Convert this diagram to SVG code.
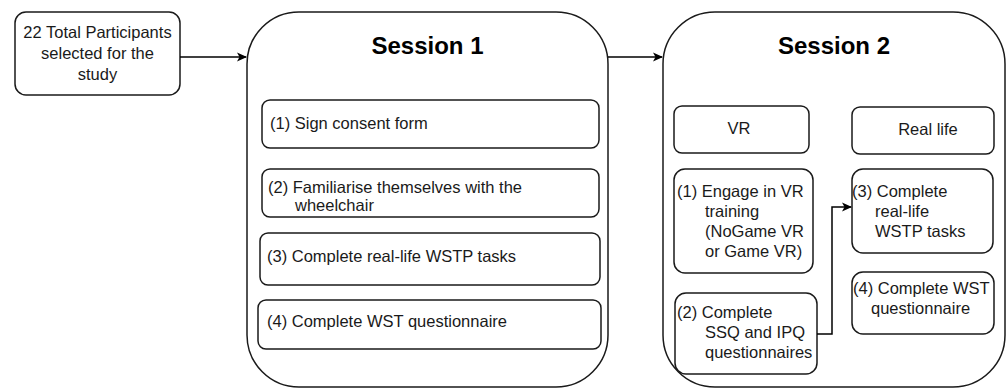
<svg xmlns="http://www.w3.org/2000/svg" width="1007" height="390" viewBox="0 0 1007 390">
<style>
.box{fill:#fff;stroke:#1a1a1a;stroke-width:1.5}
.t{font-family:"Liberation Sans",Arial,sans-serif;font-size:16.5px;fill:#1a1a1a}
.c{text-anchor:middle}
.h{font-family:"Liberation Sans",Arial,sans-serif;font-size:24px;font-weight:bold;fill:#000;text-anchor:middle}
.ln{fill:none;stroke:#000;stroke-width:1.5}
</style>
<defs>
<marker id="ah" markerWidth="10" markerHeight="10" refX="9" refY="5" orient="auto" markerUnits="userSpaceOnUse">
<path d="M0,0.5 L10,5 L0,9.5 L2.5,5 Z" fill="#000"/>
</marker>
</defs>
<rect width="1007" height="390" fill="#fff"/>
<g id="participants">
<rect class="box" x="15" y="12" width="165" height="83" rx="11"/>
<text class="t c" x="97.5" y="38">22 Total Participants</text>
<text class="t c" x="97.5" y="59">selected for the</text>
<text class="t c" x="97.5" y="80">study</text>
</g>
<g id="session1">
<rect class="box" x="247" y="12" width="361" height="375" rx="52"/>
<text class="h" x="427.5" y="54">Session 1</text>
</g>
<g id="s1-step1">
<rect class="box" x="262" y="100" width="337" height="48" rx="8"/>
<text class="t" x="270" y="129">(1) Sign consent form</text>
</g>
<g id="s1-step2">
<rect class="box" x="262" y="169" width="337" height="48" rx="8"/>
<text class="t" x="268" y="193">(2) Familiarise themselves with the</text>
<text class="t" x="295" y="211">wheelchair</text>
</g>
<g id="s1-step3">
<rect class="box" x="260" y="233" width="340" height="52" rx="8"/>
<text class="t" x="267" y="262">(3) Complete real-life WSTP tasks</text>
</g>
<g id="s1-step4">
<rect class="box" x="258" y="300" width="343" height="49" rx="8"/>
<text class="t" x="267" y="327">(4) Complete WST questionnaire</text>
</g>
<g id="session2">
<rect class="box" x="663" y="12" width="342" height="375" rx="52"/>
<text class="h" x="834" y="54">Session 2</text>
</g>
<g id="vr">
<rect class="box" x="674" y="106" width="135" height="47" rx="8"/>
<text class="t c" x="739" y="134">VR</text>
</g>
<g id="reallife">
<rect class="box" x="852" y="107" width="142" height="47" rx="8"/>
<text class="t c" x="928" y="135">Real life</text>
</g>
<g id="s2-step1">
<rect class="box" x="674" y="169" width="139" height="104" rx="11"/>
<text class="t" x="677" y="197">(1) Engage in VR</text>
<text class="t" x="705" y="217">training</text>
<text class="t" x="705" y="237">(NoGame VR</text>
<text class="t" x="705" y="257">or Game VR)</text>
</g>
<g id="s2-step2">
<rect class="box" x="675" y="293" width="142" height="81" rx="11"/>
<text class="t" x="677" y="318">(2) Complete</text>
<text class="t" x="705" y="338">SSQ and IPQ</text>
<text class="t" x="705" y="358">questionnaires</text>
</g>
<g id="s2-step3">
<rect class="box" x="852" y="169" width="141" height="84" rx="11"/>
<text class="t" x="852" y="197">(3) Complete</text>
<text class="t" x="875" y="217">real-life</text>
<text class="t" x="875" y="237">WSTP tasks</text>
</g>
<g id="s2-step4">
<rect class="box" x="852" y="272" width="142" height="62" rx="11"/>
<text class="t" x="853" y="294">(4) Complete WST</text>
<text class="t" x="871" y="314">questionnaire</text>
</g>
<g id="connectors">
<path class="ln" d="M180,57 L246,57" marker-end="url(#ah)"/>
<path class="ln" d="M608,57 L662,57" marker-end="url(#ah)"/>
<path class="ln" d="M817,334 L832,334 L832,207 L851,207" marker-end="url(#ah)"/>
</g>
</svg>
